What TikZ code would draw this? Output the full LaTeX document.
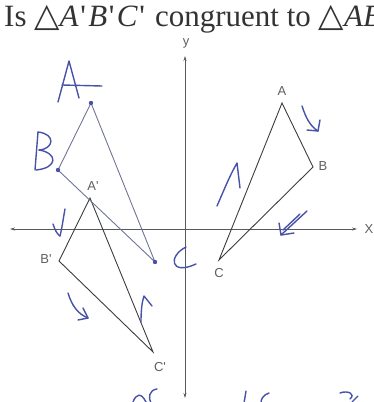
\documentclass[tikz,border=0pt]{standalone}
\usepackage{fontspec}
\usetikzlibrary{arrows.meta}
\newfontfamily\titlefont{Liberation Serif}
\newfontfamily\labfont{Liberation Sans}
\newfontfamily\symfont{DejaVu Sans}
\definecolor{handblue}{RGB}{72,82,168}
\definecolor{pencil}{RGB}{112,116,150}
\definecolor{ink}{RGB}{60,60,60}
\definecolor{labgray}{RGB}{95,95,95}
\newcommand{\tri}{{\symfont\fontsize{33}{33}\selectfont △}}
\newcommand{\prm}{\kern1.5pt'\kern2.5pt}
\tikzset{
  axisline/.style={draw=ink!85, line width=0.7pt, {Stealth[length=5pt,width=3pt]}-{Stealth[length=5pt,width=3pt]}},
  tri/.style={draw=ink, line width=0.9pt, line join=miter},
  pencilline/.style={draw=pencil, line width=0.9pt},
  hand/.style={draw=handblue, line width=1.4pt, line cap=round, line join=round},
  vlabel/.style={font=\labfont\fontsize{13}{13}\selectfont, text=labgray, inner sep=0pt},
  handdot/.style={fill=handblue, draw=none},
}
\begin{document}
\begin{tikzpicture}[x=1pt,y=-1pt]
\useasboundingbox (0,0) rectangle (374,402);
\clip (0,0) rectangle (374,402);
% title
\node[anchor=base west, inner sep=0pt, text=black!80] (title) at (4,26)
  {\titlefont\fontsize{31}{31}\selectfont Is \tri\textit{A}\prm\textit{B}\prm\textit{C}\prm{} congruent to \tri\textit{AB}};
% axes
\coordinate (xl) at (10,229);
\coordinate (xr) at (357,229);
\coordinate (yt) at (185,56);
\coordinate (yb) at (185,398);
\draw[axisline] (xl) -- (xr);
\draw[axisline] (yb) -- (yt);
\node[vlabel] (ylab) at (186,43) {y};
\node[vlabel] (xlab) at (369,229) {X};
% right triangle ABC
\coordinate (A) at (282,103);
\coordinate (B) at (313,167);
\coordinate (C) at (219,260);
\draw[tri] (A) -- (B) -- (C) -- cycle;
\node[vlabel] (lA) at (282,91) {A};
\node[vlabel] (lB) at (323,166) {B};
\node[vlabel] (lC) at (219,273) {C};
% left triangle A'B'C'
\coordinate (A1) at (90,198);
\coordinate (B1) at (59,261);
\coordinate (C1) at (153,352);
\draw[tri] (A1) -- (B1) -- (C1) -- cycle;
\node[vlabel] (lA1) at (93,186) {A'};
\node[vlabel] (lB1) at (46,259) {B'};
\node[vlabel] (lC1) at (160,367) {C'};
% pencil triangle
\coordinate (pA) at (91,103);
\coordinate (pB) at (58,170);
\coordinate (pC) at (155,262);
\draw[pencilline] (pA) -- (pB) -- (pC) -- cycle;
\fill[handdot] (pA) circle (2.2);
\fill[handdot] (pB) circle (2.2);
\fill[handdot] (pC) circle (2.2);
% handwritten A
\draw[hand] (58,102) -- (69,61) -- (79,98);
\draw[hand] (62,85) -- (102,86);
% handwritten B
\draw[hand] (38,132) -- (35,170);
\draw[hand] (38,132) .. controls (56,134) and (54,149) .. (39,150);
\draw[hand] (39,150) .. controls (58,153) and (58,168) .. (36,170);
% handwritten C near pC
\draw[hand] (186,247) .. controls (168,256) and (170,276) .. (196,264);
% marks left triangle
\draw[hand] (65,209) .. controls (63,220) and (62,228) .. (60,236);
\draw[hand] (53,224) .. controls (55,230) and (57,234) .. (60,236);
\draw[hand] (68,293) .. controls (72,306) and (78,314) .. (88,318);
\draw[hand] (83,308) -- (88,318) -- (78,320);
\draw[hand] (141,322) .. controls (141,310) and (142,302) .. (144,296) -- (152,306);
% marks right triangle
\draw[hand] (302,106) .. controls (306,118) and (310,126) .. (318,131);
\draw[hand] (320,120) -- (318,131) -- (307,130);
\draw[hand] (217,206) .. controls (224,190) and (230,175) .. (237,163) -- (240,188);
\draw[hand] (307,211) -- (281,235) -- (279,223);
\draw[hand] (281,235) -- (294,233);
\draw[hand] (300,214) -- (283,230);
% bottom fragments
\draw[hand] (133,402) .. controls (136,394) and (141,392) .. (146,402);
\draw[hand] (157,389) .. controls (149,390) and (148,398) .. (151,403);
\draw[hand] (246,391) -- (244,403);
\draw[hand] (269,393) .. controls (263,395) and (261,399) .. (261,403);
\draw[hand] (340,393) .. controls (348,390) and (356,394) .. (350,399);
\draw[hand] (352,402) -- (358,396);
\end{tikzpicture}
\end{document}
